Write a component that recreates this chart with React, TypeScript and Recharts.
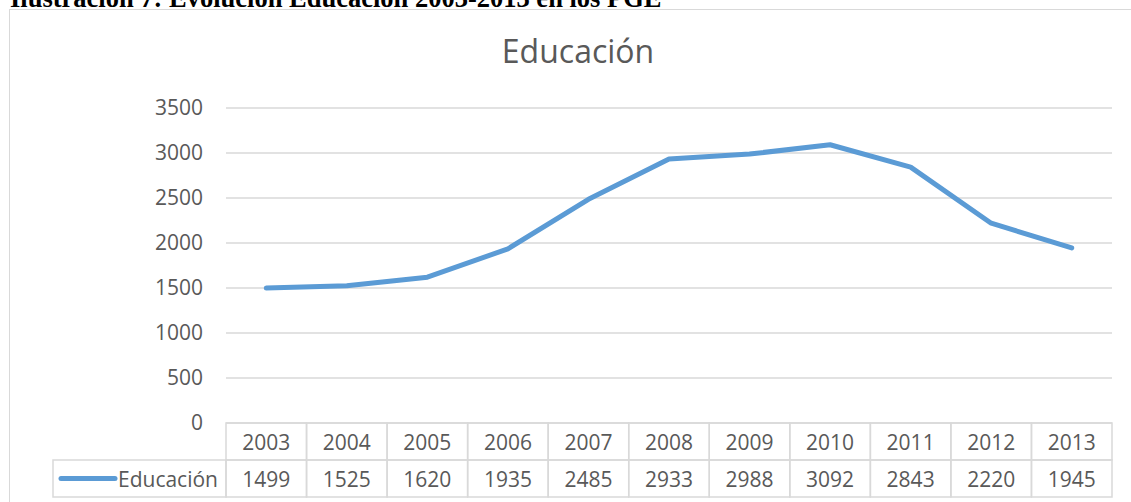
import React from 'react';
import { CartesianGrid, Line, LineChart, XAxis, YAxis } from 'recharts';

const years = ['2003', '2004', '2005', '2006', '2007', '2008', '2009', '2010', '2011', '2012', '2013'];
const educacion = [1499, 1525, 1620, 1935, 2485, 2933, 2988, 3092, 2843, 2220, 1945];
const yTicks = [0, 500, 1000, 1500, 2000, 2500, 3000, 3500];

const seriesName = 'Educación';
const heading = 'Ilustración 7: Evolución Educación 2003-2013 en los PGE';

const data = years.map((year, i) => ({ year, value: educacion[i] }));

const WIDTH = 1131;
const HEIGHT = 502;
const PLOT_LEFT = 226;
const PLOT_RIGHT = 1112;
const COL_W = (PLOT_RIGHT - PLOT_LEFT) / years.length;
const ROW_H = 37;
const LEGEND_LEFT = 53;

const FONT = '"Open Sans", sans-serif';
const TEXT = '#595959';
const BORDER = '#d9d9d9';
const BLUE = '#5b9bd5';

// draws one column of the data table under the axis
function TableTick(props: any) {
    const { x, y, payload, index } = props;
    const left = x - COL_W / 2;
    const value = data[index] ? data[index].value : '';
    return (
        <g>
            <rect x={left} y={y} width={COL_W} height={ROW_H} fill="none" stroke={BORDER} strokeWidth={1.5} />
            <rect x={left} y={y + ROW_H} width={COL_W} height={ROW_H} fill="none" stroke={BORDER} strokeWidth={1.5} />
            <text x={x} y={y + ROW_H / 2} textAnchor="middle" dominantBaseline="central" fontSize={21} fontFamily={FONT} fill={TEXT}>
                {payload.value}
            </text>
            <text x={x} y={y + ROW_H * 1.5} textAnchor="middle" dominantBaseline="central" fontSize={21} fontFamily={FONT} fill={TEXT}>
                {value}
            </text>
            {index === 0 && (
                <g>
                    <rect x={LEGEND_LEFT} y={y + ROW_H} width={left - LEGEND_LEFT} height={ROW_H} fill="none" stroke={BORDER} strokeWidth={1.5} />
                    <line x1={61} x2={115} y1={y + ROW_H * 1.5} y2={y + ROW_H * 1.5} stroke={BLUE} strokeWidth={5} strokeLinecap="round" />
                    <text x={left - 8} y={y + ROW_H * 1.5} textAnchor="end" dominantBaseline="central" fontSize={21} fontFamily={FONT} fill={TEXT}>
                        {seriesName}
                    </text>
                </g>
            )}
        </g>
    );
}

export default function App() {
    return (
        <div style={{ position: 'absolute', left: 0, top: 0, width: WIDTH, height: HEIGHT, overflow: 'hidden', background: '#fff' }}>
            <div
                style={{
                    position: 'absolute',
                    left: 10,
                    top: -15.5,
                    fontFamily: '"Liberation Serif", "Times New Roman", serif',
                    fontWeight: 'bold',
                    fontSize: 26.5,
                    lineHeight: 1,
                    whiteSpace: 'nowrap',
                    color: '#000',
                }}
            >
                {heading}
            </div>
            <div
                style={{
                    position: 'absolute',
                    left: 9,
                    top: 9,
                    width: 1200,
                    height: 600,
                    border: `1.5px solid ${BORDER}`,
                }}
            />
            <div
                style={{
                    position: 'absolute',
                    left: 378,
                    width: 400,
                    top: 31,
                    textAlign: 'center',
                    fontFamily: FONT,
                    fontSize: 32,
                    lineHeight: '40px',
                    color: TEXT,
                }}
            >
                {seriesName}
            </div>
            <div style={{ position: 'absolute', left: 0, top: 0 }}>
                <LineChart
                    width={WIDTH}
                    height={HEIGHT}
                    data={data}
                    margin={{ top: 108, right: WIDTH - PLOT_RIGHT, bottom: 0, left: 0 }}
                >
                    <CartesianGrid vertical={false} stroke={BORDER} strokeWidth={1.5} />
                    <XAxis
                        dataKey="year"
                        height={79}
                        axisLine={false}
                        tickLine={false}
                        tickSize={0}
                        tickMargin={0}
                        interval={0}
                        padding={{ left: COL_W / 2, right: COL_W / 2 }}
                        tick={<TableTick />}
                    />
                    <YAxis
                        width={PLOT_LEFT}
                        domain={[0, 3500]}
                        ticks={yTicks}
                        axisLine={false}
                        tickLine={false}
                        tickSize={0}
                        tickMargin={23}
                        tick={{ fontSize: 21, fontFamily: FONT, fill: TEXT }}
                    />
                    <Line
                        type="linear"
                        dataKey="value"
                        name={seriesName}
                        stroke={BLUE}
                        strokeWidth={5}
                        strokeLinejoin="round"
                        strokeLinecap="round"
                        dot={false}
                        isAnimationActive={false}
                    />
                </LineChart>
            </div>
        </div>
    );
}
